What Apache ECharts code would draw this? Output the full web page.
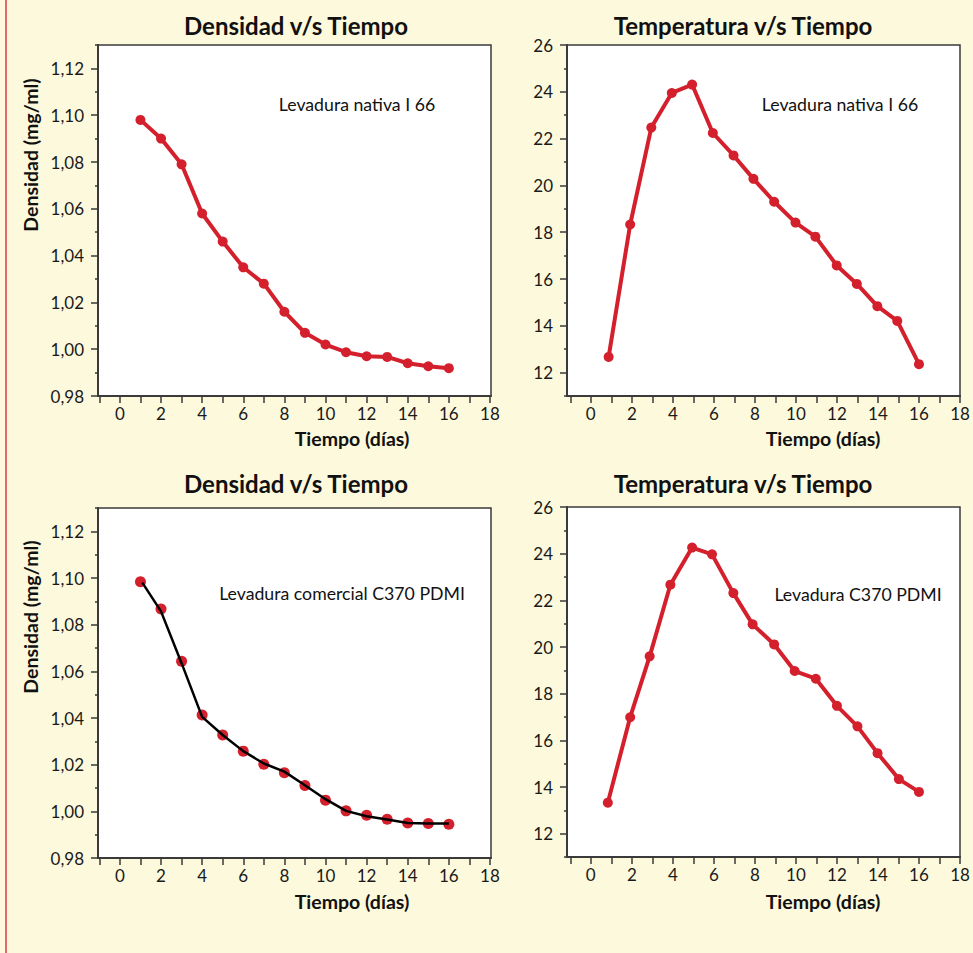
<!DOCTYPE html>
<html>
<head>
<meta charset="utf-8">
<script src="https://cdn.jsdelivr.net/npm/echarts@6/dist/echarts.min.js"></script>
<style>
html,body{margin:0;padding:0;background:#fdf9dc;}
#c{width:973px;height:953px;}
</style>
</head>
<body>
<div id="c"></div>
<script>
// ---- data ----
const days = [1,2,3,4,5,6,7,8,9,10,11,12,13,14,15,16];
const densNativa = [1.098,1.090,1.079,1.058,1.046,1.035,1.028,1.016,1.007,1.002,0.9987,0.997,0.9967,0.994,0.9927,0.9919];
const tempNativaX = [0.87,1.92,2.95,3.95,4.94,5.95,6.96,7.93,8.94,9.98,10.95,11.99,12.97,13.97,14.94,16.0];
const tempNativa = [12.67,18.33,22.47,23.95,24.31,22.24,21.28,20.28,19.30,18.41,17.81,16.58,15.79,14.84,14.21,12.36];
const densComercial = [1.0984,1.0867,1.0643,1.0413,1.0327,1.0258,1.0202,1.0165,1.0111,1.0048,1.0002,0.9983,0.9966,0.995,0.9948,0.9945];
const densComercialLineX = [1.09,2,3,4,5,6,7,8,9,10,11,12,13,14,15,16];
const densComercialLine = [1.098,1.0857,1.0635,1.0405,1.0327,1.0258,1.0205,1.017,1.0112,1.0052,1.0002,0.9979,0.9965,0.995,0.9948,0.9948];
const tempC370X = [0.83,1.92,2.87,3.88,4.94,5.91,6.95,7.89,8.94,9.94,10.97,12.0,13.0,13.98,15.02,16.0];
const tempC370 = [13.33,16.99,19.6,22.67,24.26,23.97,22.31,20.97,20.11,18.97,18.64,17.48,16.6,15.45,14.34,13.79];

const xTicks = [-1,0,1,2,3,4,5,6,7,8,9,10,11,12,13,14,15,16,17,18];
const xTickLabels = [0,2,4,6,8,10,12,14,16,18];
const densTickLabels = [0.98,1.00,1.02,1.04,1.06,1.08,1.10,1.12];
const densMinorTicks = [0.99,1.01,1.03,1.05,1.07,1.09,1.11,1.13];
const tempTickLabels = [12,14,16,18,20,22,24,26];
const tempMinorTicks = [11,13,15,17,19,21,23,25];

const titles = ['Densidad v/s Tiempo','Temperatura v/s Tiempo','Densidad v/s Tiempo','Temperatura v/s Tiempo'];
const notes = ['Levadura nativa I 66','Levadura nativa I 66','Levadura comercial C370 PDMI','Levadura C370 PDMI'];
const xName = 'Tiempo (días)';
const yName = 'Densidad (mg/ml)';

// ---- layout ----
const RED = '#d4202c';
const FONT = 'Lato';
const grids = [
  {left:98, top:45, width:393, height:351},
  {left:567, top:45, width:393, height:351},
  {left:98, top:508, width:393, height:350},
  {left:567, top:507, width:393, height:350}
];
const xRanges = [[-1.065,18.05],[-1.16,18.0],[-1.065,18.05],[-1.16,18.0]];
const isDens = [true,false,true,false];

const zip = (xs, ys) => xs.map((x,i)=>[x, ys[i]]);
const fmtDens = v => v.toFixed(2).replace('.', ',');

const xAxis = [], yAxis = [];
grids.forEach((g,i)=>{
  xAxis.push({
    type:'value', gridIndex:i, min:xRanges[i][0], max:xRanges[i][1],
    axisLine:{show:true, onZero:false, lineStyle:{color:'#3a3a3a', width:2}},
    axisTick:{show:true, length:7, inside:false, customValues:xTicks, lineStyle:{color:'#3a3a3a', width:1.5}},
    axisLabel:{show:true, customValues:xTickLabels, margin:9, color:'#1a1a1a', fontFamily:FONT, fontSize:17},
    splitLine:{show:false}
  });
  const labs = isDens[i] ? densTickLabels : tempTickLabels;
  const minor = isDens[i] ? densMinorTicks : tempMinorTicks;
  const ymin = isDens[i] ? 0.98 : 11, ymax = isDens[i] ? 1.13 : 26;
  yAxis.push({
    type:'value', gridIndex:i, min:ymin, max:ymax, position:'left',
    axisLine:{show:true, onZero:false, lineStyle:{color:'#3a3a3a', width:2}},
    axisTick:{show:true, length:7, customValues:labs, lineStyle:{color:'#3a3a3a', width:1.5}},
    axisLabel:{show:true, customValues:labs, margin:14, color:'#1a1a1a', fontFamily:FONT, fontSize:17,
      formatter: isDens[i] ? fmtDens : (v=>String(v))},
    splitLine:{show:false}
  });
  yAxis.push({
    type:'value', gridIndex:i, min:ymin, max:ymax, position:'left',
    axisLine:{show:false, onZero:false},
    axisTick:{show:true, length:3, customValues:minor, lineStyle:{color:'#3a3a3a', width:1.5}},
    axisLabel:{show:false, customValues:minor},
    splitLine:{show:false}
  });
});

const series = [
  {type:'line', xAxisIndex:0, yAxisIndex:0, data:zip(days, densNativa),
   symbol:'circle', symbolSize:10, lineStyle:{color:RED, width:4}, itemStyle:{color:RED}},
  {type:'line', xAxisIndex:1, yAxisIndex:2, data:zip(tempNativaX, tempNativa),
   symbol:'circle', symbolSize:10, lineStyle:{color:RED, width:4}, itemStyle:{color:RED}},
  {type:'scatter', xAxisIndex:2, yAxisIndex:4, data:zip(days, densComercial),
   symbol:'circle', symbolSize:11, itemStyle:{color:RED, opacity:1}, z:2},
  {type:'line', xAxisIndex:2, yAxisIndex:4, data:zip(densComercialLineX, densComercialLine),
   symbol:'none', lineStyle:{color:'#000', width:2.5}, z:3},
  {type:'line', xAxisIndex:3, yAxisIndex:6, data:zip(tempC370X, tempC370),
   symbol:'circle', symbolSize:10, lineStyle:{color:RED, width:4}, itemStyle:{color:RED}}
];

const textEl = (x,y,text,size,weight,extra) => Object.assign({
  type:'text', x:x, y:y, silent:true,
  style:{text:text, fill:'#111', font: weight+' '+size+'px '+FONT, align:'center', verticalAlign:'middle'}
}, extra||{});

const titlePos = [[296,25],[743,25],[296,483],[743,483]];
const xNamePos = [[352,438],[823,438],[352,901],[823,901]];
const notePos = [[357,104],[840,104],[342,593],[858,594]];

const graphic = [
  {type:'line', shape:{x1:6,y1:0,x2:6,y2:953}, style:{stroke:'#e26a6a', lineWidth:2}, silent:true}
];
titles.forEach((t,i)=>graphic.push(textEl(titlePos[i][0],titlePos[i][1],t,24,'bold')));
xNamePos.forEach(p=>graphic.push(textEl(p[0],p[1],xName,19.5,'bold')));
notes.forEach((t,i)=>graphic.push(textEl(notePos[i][0],notePos[i][1],t,17.7,'normal')));
graphic.push(textEl(30,155,yName,19.5,'bold',{rotation:Math.PI/2}));
graphic.push(textEl(30,617,yName,19.5,'bold',{rotation:Math.PI/2}));

const chart = echarts.init(document.getElementById('c'), null, {renderer:'svg'});
chart.setOption({
  backgroundColor:'#fdf9dc',
  animation:false,
  grid: grids.map(g=>Object.assign({show:true, backgroundColor:'#ffffff', borderColor:'#3a3a3a', borderWidth:1.5}, g)),
  xAxis, yAxis, series, graphic
});
</script>
</body>
</html>
